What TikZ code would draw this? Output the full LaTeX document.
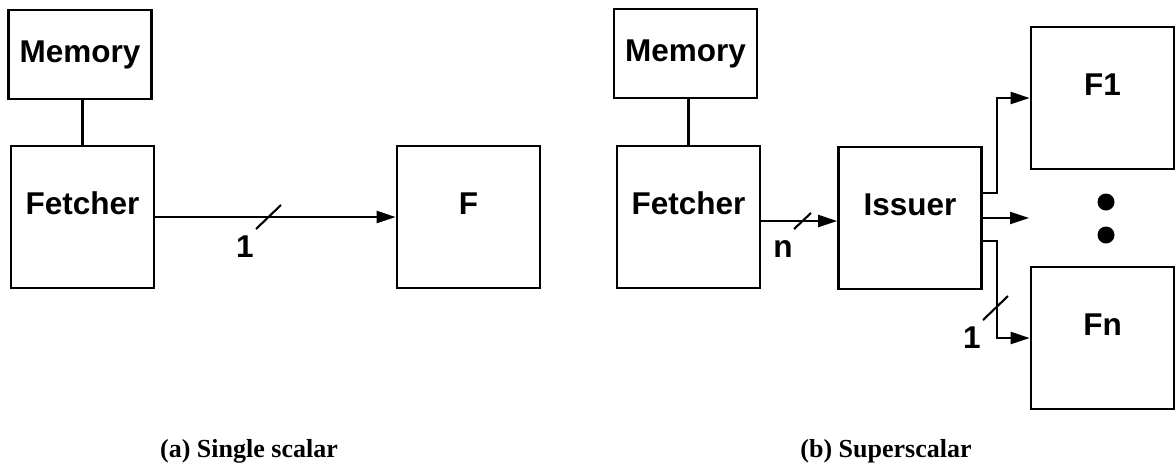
\documentclass[tikz,border=0pt]{standalone}
\usepackage{fontspec}
\newfontfamily\labfont{Liberation Sans}
\newfontfamily\capfont{Liberation Serif}
\usetikzlibrary{arrows.meta}
\begin{document}
\begin{tikzpicture}[x=1pt,y=-1pt,
  box/.style={draw,line width=2.7pt,minimum width=143pt,minimum height=142pt,inner sep=0pt,
    font=\labfont\bfseries\fontsize{31.5}{36}\selectfont,text height=22pt,text depth=28pt},
  membox/.style={draw,line width=2.7pt,minimum width=143pt,minimum height=89pt,inner sep=0pt,
    font=\labfont\bfseries\fontsize{31.5}{36}\selectfont},
  wire/.style={line width=2.1pt},
  arr/.style={wire,-{Triangle[length=19pt,width=12pt]}},
  lbl/.style={inner sep=0pt,font=\labfont\bfseries\fontsize{31.5}{36}\selectfont},
  captext/.style={inner sep=0pt,anchor=base,font=\capfont\bfseries\fontsize{26}{30}\selectfont},
  dot/.style={circle,fill,inner sep=0pt,minimum size=17pt},
]
\useasboundingbox (0,0) rectangle (1176,467);

% (a) single scalar
\node[membox] (mema) at (80,54.5) {Memory};
\node[box] (fa) at (82.5,217) {Fetcher};
\node[box] (F) at (468.5,217) {F};
\draw[wire] (fa.north) -- (fa.north |- mema.south);
\draw[arr] (fa.east) -- (F.west);
\coordinate (sa) at (268.5,217);
\draw[wire] (sa) +(-12.5,12) -- +(12.5,-12);
\node[lbl] (one) at (245,247) {1};
\node[captext] (capa) at (249,457.5) {(a) Single scalar};

% (b) superscalar
\node[membox] (memb) at (685.5,53.5) {Memory};
\node[box] (fb) at (688.5,217) {Fetcher};
\node[box] (iss) at (910,218) {Issuer};
\node[box] (f1) at (1102.5,98) {F1};
\node[box] (fn) at (1102.5,338) {Fn};
\draw[wire] (fb.north) -- (fb.north |- memb.south);
\coordinate (fbo) at (fb.east |- 0,221);
\draw[arr] (fbo) -- (fbo -| iss.west);
\coordinate (sb) at (802.5,221);
\draw[wire] (sb) +(-8.5,8) -- +(8.5,-8);
\node[lbl] (nl) at (783,249) {n};

\coordinate (t0) at (iss.east |- 0,193);
\coordinate (m0) at (iss.east |- 0,218);
\coordinate (b0) at (iss.east |- 0,241);
\coordinate (mend) at (1029,218);
\draw[arr] (t0) -- (997,193) |- (f1.west);
\draw[arr] (m0) -- (mend);
\draw[arr] (b0) -- (997,241) |- (fn.west);
\coordinate (sc) at (995.5,308);
\draw[wire] (sc) +(-12.5,12) -- +(12.5,-12);
\node[lbl] (one2) at (972,338) {1};
\node[dot] (d1) at (1106,202) {};
\node[dot] (d2) at (1106,235) {};
\node[captext] (capb) at (886,457.5) {(b) Superscalar};
\end{tikzpicture}
\end{document}
